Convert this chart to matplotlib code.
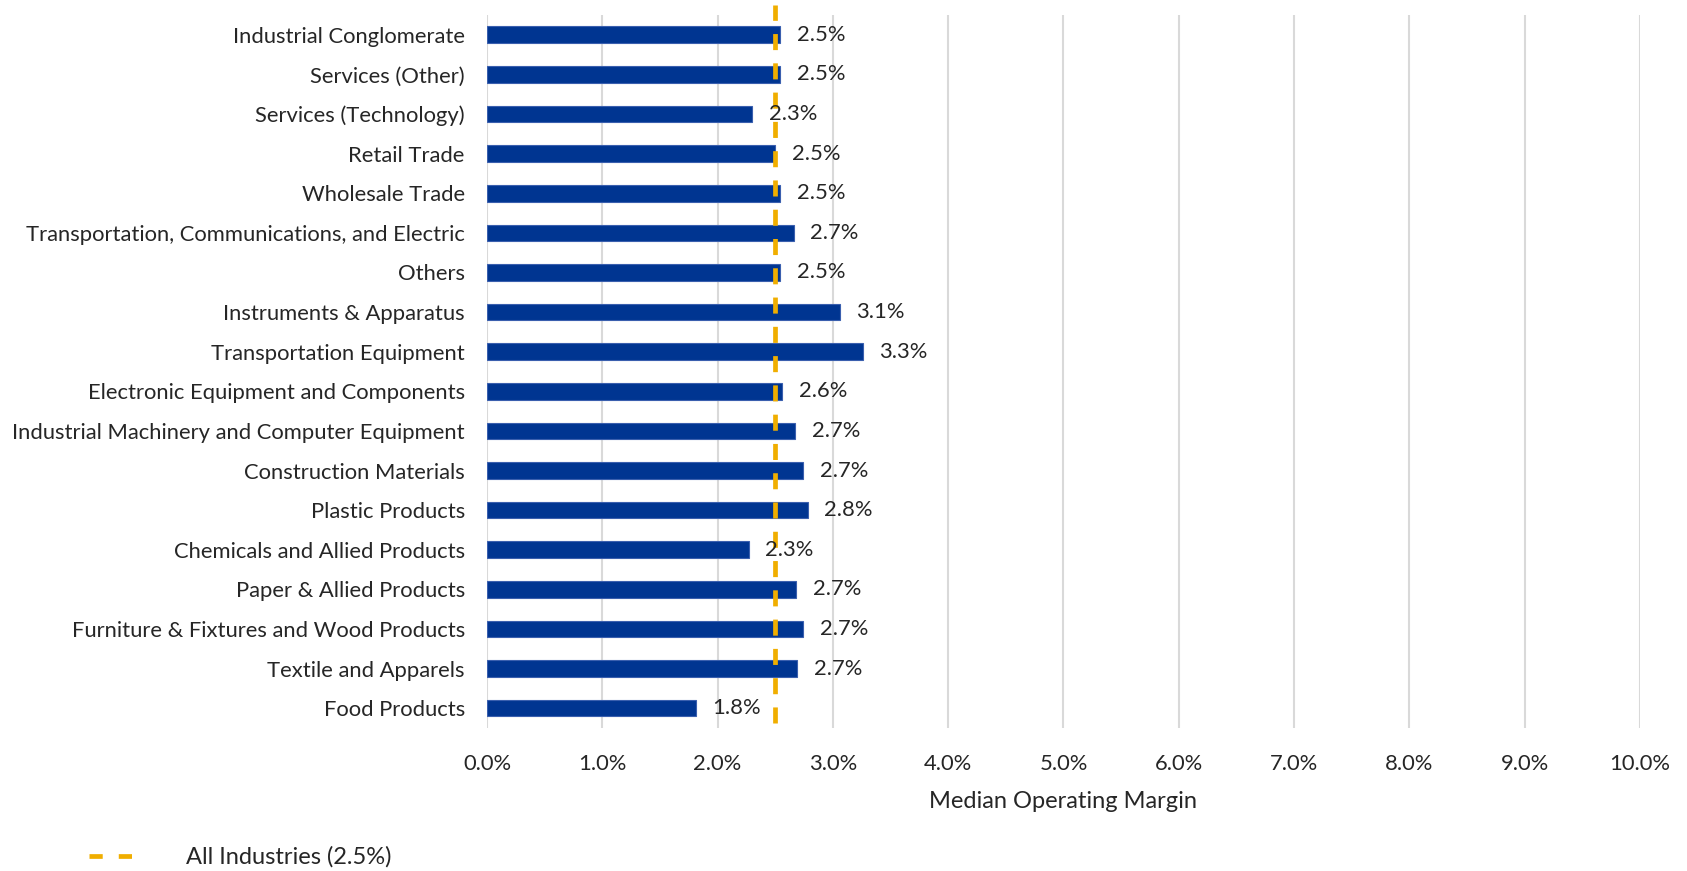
import matplotlib.pyplot as plt
from matplotlib.lines import Line2D
from matplotlib.ticker import PercentFormatter

# -------------------------------------------------
# Data (bottom to top, as drawn)
# -------------------------------------------------
industries = [
    "Food Products",
    "Textile and Apparels",
    "Furniture & Fixtures and Wood Products",
    "Paper & Allied Products",
    "Chemicals and Allied Products",
    "Plastic Products",
    "Construction Materials",
    "Industrial Machinery and Computer Equipment",
    "Electronic Equipment and Components",
    "Transportation Equipment",
    "Instruments & Apparatus",
    "Others",
    "Transportation, Communications, and Electric",
    "Wholesale Trade",
    "Retail Trade",
    "Services (Technology)",
    "Services (Other)",
    "Industrial Conglomerate",
]
median_margin = [1.81, 2.69, 2.74, 2.68, 2.27, 2.78, 2.74, 2.67, 2.56, 3.26,
                 3.06, 2.54, 2.66, 2.54, 2.50, 2.30, 2.54, 2.54]
all_industries = 2.5
x_ticks = [0, 1, 2, 3, 4, 5, 6, 7, 8, 9, 10]

BAR = "#003591"
GOLD = "#F0AE00"
TEXT = "#262626"

plt.rcParams["font.family"] = ["Lato", "DejaVu Sans"]
fs = 15.8

fig = plt.figure(figsize=(16.87, 8.71), dpi=100)
ax = fig.add_axes([0.2887, 0.1642, 0.6834, 0.8186])

ypos = list(range(len(industries)))
bars = ax.barh(ypos, median_margin, height=0.42, color=BAR,
               edgecolor="#3a5fae", linewidth=0.8, zorder=2)
ax.bar_label(bars, labels=[f"{v:.1f}%" for v in median_margin],
             padding=12, fontsize=fs, color=TEXT, zorder=4)

ax.plot([all_industries, all_industries], [-0.37, 17.75], color=GOLD,
        linewidth=3.4, dashes=(3.4, 2.8), clip_on=False, zorder=3)

ax.set_xlim(0, 10)
ax.set_ylim(-0.5, len(industries) - 0.5)
ax.set_xticks(x_ticks)
ax.xaxis.set_major_formatter(PercentFormatter(decimals=1))
ax.set_yticks(ypos)
ax.set_yticklabels(industries)
ax.tick_params(axis="both", length=0, labelsize=fs, labelcolor=TEXT)
ax.tick_params(axis="x", pad=19)
ax.tick_params(axis="y", pad=16)
ax.grid(axis="x", color="#D9D9D9", linewidth=1.5, zorder=0)
ax.set_axisbelow(True)
for s in ax.spines.values():
    s.set_visible(False)
ax.set_xlabel("Median Operating Margin", fontsize=fs + 1.2, color=TEXT, labelpad=12)

handle = Line2D([], [], color=GOLD, linewidth=3.4, dashes=(2.8, 3.4))
fig.legend(handles=[handle], labels=["All Industries (2.5%)"],
           loc="center left", bbox_to_anchor=(0.046, 0.016), frameon=False,
           fontsize=fs + 1.2, handlelength=2.1, handletextpad=2.0,
           borderpad=0, labelcolor=TEXT)

fig.savefig("out.png", dpi=100)
